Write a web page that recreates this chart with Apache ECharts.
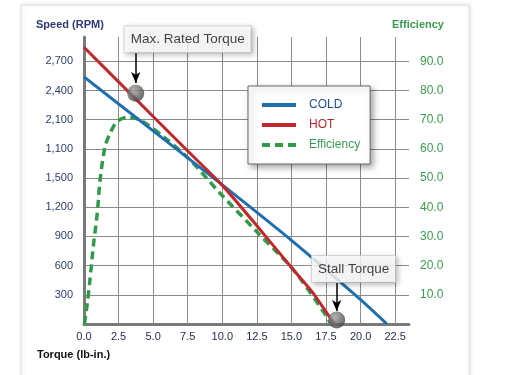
<!DOCTYPE html>
<html>
<head>
<meta charset="utf-8">
<script src="https://cdn.jsdelivr.net/npm/echarts@6/dist/echarts.min.js"></script>
<style>
  html, body { margin: 0; padding: 0; background: #fff; }
  #chart { width: 527px; height: 375px; }
</style>
</head>
<body>
<div id="chart"></div>
<script>
// torque (lb-in.) vs speed, speed is the linear position of the printed ticks (300 per step)
var coldTorque = [0, 5, 10, 15, 20, 21.9];
var coldSpeed = [2540, 1985, 1430, 860, 250, 0];
var hotTorque = [0, 2.5, 5, 7.5, 10, 12.5, 15, 16.5, 18.1];
var hotSpeed = [2844, 2489, 2133, 1778, 1425, 1010, 580, 330, 0];
// efficiency (%) on the right axis
var effTorque = [0.03, 0.24, 0.43, 0.67, 0.96, 1.16, 1.52, 1.88, 2.37, 3.09, 4.05, 5.74, 7.67, 9.84, 12.6, 15.15, 17.56, 17.85];
var effValue = [0, 7.1, 15.1, 26.5, 37.9, 49.3, 60.7, 65.3, 69.3, 70.8, 69.9, 64.2, 56.2, 44.8, 31.1, 18.5, 2.5, 0];

// tick labels as printed
var speedTicks = ['300', '600', '900', '1,200', '1,500', '1,100', '2,100', '2,400', '2,700'];
var effTicks = ['10.0', '20.0', '30.0', '40.0', '50.0', '60.0', '70.0', '80.0', '90.0'];
var torqueTicks = ['0.0', '2.5', '5.0', '7.5', '10.0', '12.5', '15.0', '17.5', '20.0', '22.5'];

// call-outs
var annotNames = ['Max. Rated Torque', 'Stall Torque'];
var annotTorque = [3.74, 18.27];
var annotSpeed = [2371, 40];
var arrowFrom = [2785, 421];
var arrowTo = [2477, 134];

function pairs(xs, ys) {
    return xs.map(function (x, i) { return [x, ys[i]]; });
}

function tickLabel(list, step, offset) {
    return function (v) {
        var k = Math.round(v / step);
        if (Math.abs(v - k * step) > 1e-6) return '';
        var idx = k - offset;
        return (idx >= 0 && idx < list.length) ? list[idx] : '';
    };
}

var SANS = '"Liberation Sans", Arial, sans-serif';
var gridColor = '#8a8a8a';
var axisColor = '#7a7a7a';

var chart = echarts.init(document.getElementById('chart'));

var calloutOffsets = [[52, -54], [17, -51]];

var option = {
    animation: false,
    backgroundColor: '#fff',
    grid: {
        left: 84, top: 37, width: 325, height: 287,
        outerBoundsMode: 'none'
    },
    legend: {
        orient: 'vertical',
        left: 248, top: 86,
        selectedMode: false,
        data: [
            {name: 'COLD', textStyle: {color: '#1f4f8f'}},
            {name: 'HOT', textStyle: {color: '#b3262c'}},
            {name: 'Efficiency', textStyle: {color: '#3d9a52'}}
        ],
        itemWidth: 34, itemHeight: 14, itemGap: 8,
        padding: [13, 10, 13, 12],
        backgroundColor: '#fff',
        borderColor: '#666', borderWidth: 1, borderRadius: 0,
        shadowBlur: 6, shadowColor: 'rgba(0,0,0,0.35)', shadowOffsetX: 3, shadowOffsetY: 3,
        itemStyle: {opacity: 0},
        lineStyle: {width: 4},
        textStyle: {fontFamily: SANS, fontSize: 12, padding: [0, 0, 0, 8]}
    },
    xAxis: {
        type: 'value',
        min: 0, max: 23.5, interval: 2.5,
        axisLine: {show: true, lineStyle: {color: axisColor, width: 3}},
        axisTick: {show: false},
        axisLabel: {
            color: '#1f2a4a', fontFamily: SANS, fontSize: 11, margin: 7,
            formatter: tickLabel(torqueTicks, 2.5, 0)
        },
        splitLine: {show: true, showMaxLine: false, lineStyle: {color: gridColor, width: 1}}
    },
    yAxis: [
        {
            type: 'value',
            min: 0, max: 2950, interval: 300,
            axisLine: {show: true, lineStyle: {color: axisColor, width: 3}},
            axisTick: {show: false},
            axisLabel: {
                color: '#2d3b6e', fontFamily: SANS, fontSize: 11, margin: 11,
                formatter: tickLabel(speedTicks, 300, 1)
            },
            splitLine: {show: true, showMaxLine: false, lineStyle: {color: gridColor, width: 1}}
        },
        {
            type: 'value',
            position: 'right',
            min: 0, max: 98.333, interval: 10,
            axisLine: {show: false},
            axisTick: {show: false},
            axisLabel: {
                color: '#3a9a4f', fontFamily: SANS, fontSize: 12, margin: 11,
                formatter: tickLabel(effTicks, 10, 1)
            },
            splitLine: {show: false}
        }
    ],
    graphic: [
        {
            type: 'rect', z: -10, silent: true,
            shape: {x: 21, y: 5, width: 448, height: 400},
            style: {fill: '#fff', stroke: '#e2e2e2', lineWidth: 1,
                shadowBlur: 4, shadowColor: 'rgba(0,0,0,0.12)', shadowOffsetX: 1}
        },
        {
            type: 'text', left: 36, top: 19,
            style: {text: 'Speed (RPM)', font: 'bold 11px ' + SANS, fill: '#2f3a78'}
        },
        {
            type: 'text', left: 392, top: 19,
            style: {text: 'Efficiency', font: 'bold 11px ' + SANS, fill: '#3a9a4f'}
        },
        {
            type: 'text', left: 37, top: 349,
            style: {text: 'Torque (lb-in.)', font: 'bold 11px ' + SANS, fill: '#111'}
        }
    ],
    series: [
        {
            name: 'COLD', type: 'line', yAxisIndex: 0,
            symbol: 'none', smooth: 0.15, z: 3,
            data: pairs(coldTorque, coldSpeed),
            lineStyle: {color: '#1f6fae', width: 3},
            itemStyle: {color: '#1f6fae'}
        },
        {
            name: 'HOT', type: 'line', yAxisIndex: 0,
            symbol: 'none', smooth: 0.2, z: 4,
            data: pairs(hotTorque, hotSpeed),
            lineStyle: {color: '#c0282e', width: 3},
            itemStyle: {color: '#c0282e'}
        },
        {
            name: 'Efficiency', type: 'line', yAxisIndex: 1,
            symbol: 'none', smooth: 0.3, z: 2,
            data: pairs(effTorque, effValue),
            lineStyle: {color: '#2f9a48', width: 3.5, type: [8, 5]},
            itemStyle: {color: '#2f9a48'}
        },
        {
            name: 'callouts', type: 'scatter', yAxisIndex: 0, z: 10,
            symbol: 'circle', symbolSize: 17,
            itemStyle: {
                color: {
                    type: 'radial', x: 0.38, y: 0.32, r: 0.75,
                    colorStops: [{offset: 0, color: '#a0a0a0'}, {offset: 1, color: '#3a3a3a'}]
                }
            },
            data: annotNames.map(function (n, i) {
                return {
                    name: n,
                    value: [annotTorque[i], annotSpeed[i]],
                    label: {
                        show: true, position: 'inside', formatter: n,
                        offset: calloutOffsets[i],
                        fontFamily: SANS, fontSize: 13.5, color: '#111',
                        backgroundColor: '#fff', borderColor: '#d4d4d4', borderWidth: 1,
                        padding: [6, 6, 6, 6],
                        shadowBlur: 5, shadowColor: 'rgba(0,0,0,0.3)', shadowOffsetX: 2, shadowOffsetY: 2
                    }
                };
            }),
            markLine: {
                silent: true,
                symbol: ['none', 'arrow'],
                symbolSize: [7, 11],
                label: {show: false},
                lineStyle: {color: '#000', width: 1.5, type: 'solid'},
                data: annotNames.map(function (n, i) {
                    return [
                        {coord: [annotTorque[i], arrowFrom[i]]},
                        {coord: [annotTorque[i], arrowTo[i]]}
                    ];
                })
            }
        }
    ]
};

chart.setOption(option);
</script>
</body>
</html>
